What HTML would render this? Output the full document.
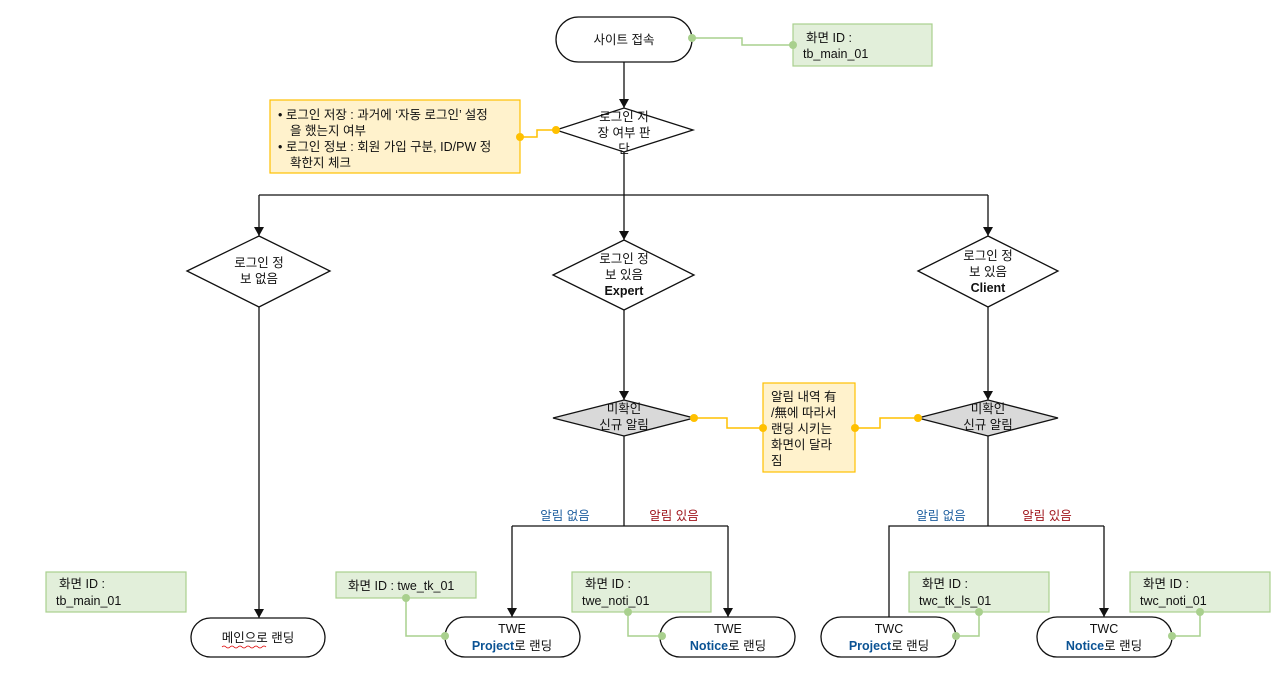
<!DOCTYPE html>
<html><head><meta charset="utf-8"><style>
html,body{margin:0;padding:0;background:#fff}
svg{display:block}
text{font-family:"Liberation Sans","Noto Sans CJK KR",sans-serif;font-size:12.5px;fill:#111}
.b{fill:#0b5394;font-weight:bold}
.bl{fill:#1f5f9f}
.rd{fill:#a0161d}
</style></head><body>
<svg width="1280" height="686" viewBox="0 0 1280 686" xmlns="http://www.w3.org/2000/svg">
<defs>
<marker id="a" markerWidth="10" markerHeight="10" refX="9" refY="5" orient="auto" markerUnits="userSpaceOnUse"><path d="M0,0 L9,5 L0,10z" fill="#111"/></marker></defs>
<g stroke="#111" stroke-width="1.3" fill="none">
<line x1="624" y1="62" x2="624" y2="108" marker-end="url(#a)"/>
<line x1="624" y1="152" x2="624" y2="195"/>
<line x1="259" y1="195" x2="988" y2="195"/>
<line x1="259" y1="195" x2="259" y2="236" marker-end="url(#a)"/>
<line x1="624" y1="195" x2="624" y2="240" marker-end="url(#a)"/>
<line x1="988" y1="195" x2="988" y2="236" marker-end="url(#a)"/>
<line x1="259" y1="307" x2="259" y2="618" marker-end="url(#a)"/>
<line x1="624" y1="310" x2="624" y2="400" marker-end="url(#a)"/>
<line x1="988" y1="307" x2="988" y2="400" marker-end="url(#a)"/>
<line x1="624" y1="436" x2="624" y2="526"/>
<line x1="512" y1="526" x2="728" y2="526"/>
<line x1="512" y1="526" x2="512" y2="617" marker-end="url(#a)"/>
<line x1="728" y1="526" x2="728" y2="617" marker-end="url(#a)"/>
<line x1="988" y1="436" x2="988" y2="526"/>
<polyline points="889,617 889,526 1104,526"/>
<line x1="1104" y1="526" x2="1104" y2="617" marker-end="url(#a)"/>
</g>
<!-- green connectors -->
<g stroke="#a9d08e" stroke-width="1.5" fill="none">
<polyline points="692,38 742,38 742,45 793,45"/>
<polyline points="406,598 406,636 445,636"/>
<polyline points="628,612 628,636 662,636"/>
<polyline points="979,612 979,636 956,636"/>
<polyline points="1200,612 1200,636 1172,636"/>
</g>
<!-- yellow connectors -->
<g stroke="#ffc000" stroke-width="1.5" fill="none">
<polyline points="520,137 537,137 537,130 556,130"/>
<polyline points="694,418 727,418 727,428 763,428"/>
<polyline points="855,428 880,428 880,418 918,418"/>
</g>
<!-- shapes -->
<g stroke="#111" stroke-width="1.3">
<rect x="556" y="17" width="136" height="45" rx="22.5" fill="#fff"/>
<polygon points="556,130 624,108 693,130 624,152" fill="#fff"/>
<polygon points="187,271 259,236 330,271 259,307" fill="#fff"/>
<polygon points="553,275 624,240 694,275 624,310" fill="#fff"/>
<polygon points="918,271 988,236 1058,271 988,307" fill="#fff"/>
<polygon points="553,418 624,400 694,418 624,436" fill="#d9d9d9"/>
<polygon points="918,418 988,400 1058,418 988,436" fill="#d9d9d9"/>
<rect x="191" y="618" width="134" height="39" rx="19.5" fill="#fff"/>
<rect x="445" y="617" width="135" height="40" rx="20" fill="#fff"/>
<rect x="660" y="617" width="135" height="40" rx="20" fill="#fff"/>
<rect x="821" y="617" width="135" height="40" rx="20" fill="#fff"/>
<rect x="1037" y="617" width="135" height="40" rx="20" fill="#fff"/>
</g>
<g fill="#e2efda" stroke="#a9d08e" stroke-width="1.2">
<rect x="793" y="24" width="139" height="42"/>
<rect x="46" y="572" width="140" height="40"/>
<rect x="336" y="572" width="140" height="26"/>
<rect x="572" y="572" width="139" height="40"/>
<rect x="909" y="572" width="140" height="40"/>
<rect x="1130" y="572" width="140" height="40"/>
</g>
<g fill="#fff2cc" stroke="#ffc000" stroke-width="1.2">
<rect x="270" y="100" width="250" height="73"/>
<rect x="763" y="383" width="92" height="89"/>
</g>
<g fill="#a9d08e">
<circle cx="692" cy="38" r="4"/><circle cx="793" cy="45" r="4"/>
<circle cx="406" cy="598" r="4"/><circle cx="445" cy="636" r="4"/>
<circle cx="628" cy="612" r="4"/><circle cx="662" cy="636" r="4"/>
<circle cx="979" cy="612" r="4"/><circle cx="956" cy="636" r="4"/>
<circle cx="1200" cy="612" r="4"/><circle cx="1172" cy="636" r="4"/>
</g>
<g fill="#ffc000">
<circle cx="520" cy="137" r="4"/><circle cx="556" cy="130" r="4"/>
<circle cx="694" cy="418" r="4"/><circle cx="763" cy="428" r="4"/>
<circle cx="855" cy="428" r="4"/><circle cx="918" cy="418" r="4"/>
</g>
<!-- text -->
<g text-anchor="middle">
<text x="624" y="44">사이트 접속</text>
<text x="624" y="121">로그인 저</text><text x="624" y="137">장 여부 판</text><text x="624" y="153">단</text>
<text x="259" y="267">로그인 정</text><text x="259" y="283">보 없음</text>
<text x="624" y="263">로그인 정</text><text x="624" y="279">보 있음</text><text x="624" y="295" font-weight="bold">Expert</text>
<text x="988" y="260">로그인 정</text><text x="988" y="276">보 있음</text><text x="988" y="292" font-weight="bold">Client</text>
<text x="624" y="413">미확인</text><text x="624" y="429">신규 알림</text>
<text x="988" y="413">미확인</text><text x="988" y="429">신규 알림</text>
<text x="258" y="642">메인으로 랜딩</text>
<text x="512" y="633">TWE</text><text x="512" y="650"><tspan class="b">Project</tspan>로 랜딩</text>
<text x="728" y="633">TWE</text><text x="728" y="650"><tspan class="b">Notice</tspan>로 랜딩</text>
<text x="889" y="633">TWC</text><text x="889" y="650"><tspan class="b">Project</tspan>로 랜딩</text>
<text x="1104" y="633">TWC</text><text x="1104" y="650"><tspan class="b">Notice</tspan>로 랜딩</text>
<text x="565" y="520" class="bl">알림 없음</text>
<text x="674" y="520" class="rd">알림 있음</text>
<text x="941" y="520" class="bl">알림 없음</text>
<text x="1047" y="520" class="rd">알림 있음</text>
</g>
<text x="806" y="42">화면 ID :</text><text x="803" y="58">tb_main_01</text>
<text x="59" y="588">화면 ID :</text><text x="56" y="605">tb_main_01</text>
<text x="348" y="590">화면 ID : twe_tk_01</text>
<text x="585" y="588">화면 ID :</text><text x="582" y="605">twe_noti_01</text>
<text x="922" y="588">화면 ID :</text><text x="919" y="605">twc_tk_ls_01</text>
<text x="1143" y="588">화면 ID :</text><text x="1140" y="605">twc_noti_01</text>
<text x="278" y="119">• 로그인 저장 : 과거에 ‘자동 로그인’ 설정</text>
<text x="290" y="135">을 했는지 여부</text>
<text x="278" y="151">• 로그인 정보 : 회원 가입 구분, ID/PW 정</text>
<text x="290" y="167">확한지 체크</text>
<text x="771" y="401">알림 내역 有</text>
<text x="771" y="417">/無에 따라서</text>
<text x="771" y="433">랜딩 시키는</text>
<text x="771" y="449">화면이 달라</text>
<text x="771" y="465">짐</text>
<path d="M222,647 q2,-2 4,0 t4,0 t4,0 t4,0 t4,0 t4,0 t4,0 t4,0 t4,0 t4,0 t4,0" stroke="#d00" stroke-width="0.8" fill="none"/>
</svg>
</body></html>
